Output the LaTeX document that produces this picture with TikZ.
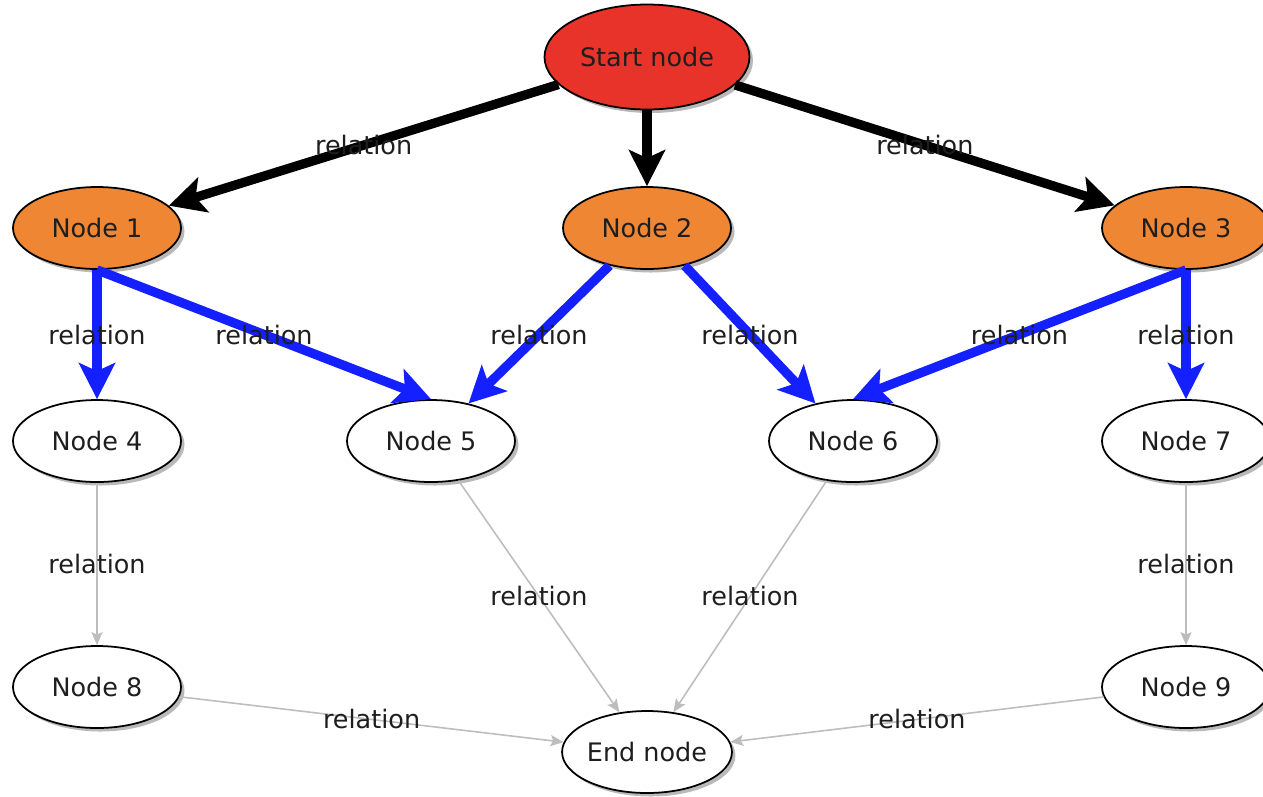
\documentclass[tikz,border=0pt]{standalone}
\usepackage{fontspec}
\setmainfont{DejaVu Sans}
\usepackage{xcolor}
\usetikzlibrary{shapes,arrows.meta,shadows}

\definecolor{startred}{HTML}{E8332A}
\definecolor{nodeorange}{HTML}{EE8634}
\definecolor{relblue}{HTML}{1420FF}
\definecolor{relgrey}{HTML}{BDBDBD}
\definecolor{txtgrey}{HTML}{1E1E1E}

\begin{document}
\begin{tikzpicture}[
    font=\fontsize{14.5}{17}\selectfont,
    state/.style={ellipse, draw=black, line width=1pt, text=txtgrey,
        minimum width=3.36cm, minimum height=1.64cm, inner sep=0pt, fill=white,
        drop shadow={shadow xshift=0.07cm, shadow yshift=-0.07cm, fill=black!50, opacity=0.55}},
    top/.style={state, fill=startred, minimum width=4.1cm, minimum height=2.1cm},
    mid/.style={state, fill=nodeorange},
    rel/.style={text=txtgrey, inner sep=1pt},
    mainrel/.style={line width=5.3pt, -{Stealth[length=0.72cm, width=0.72cm, inset=0.16cm]}},
    blackrel/.style={mainrel, draw=black},
    bluerel/.style={mainrel, draw=relblue},
    greyrel/.style={line width=0.9pt, draw=relgrey, -{Stealth[length=0.26cm, width=0.22cm, inset=0.05cm]}}
]
\useasboundingbox (0,0) rectangle (25.26,-15.92);

% Noeud de départ
\node[top] (start) at (12.94,-1.14) {Start node};

% Premier niveau
\node[mid] (n1) at (1.94,-4.56) {Node 1};
\node[mid] (n2) at (12.94,-4.56) {Node 2};
\node[mid] (n3) at (23.72,-4.56) {Node 3};

% Deuxième niveau
\node[state] (n4) at (1.94,-8.82) {Node 4};
\node[state] (n5) at (8.62,-8.82) {Node 5};
\node[state] (n6) at (17.06,-8.82) {Node 6};
\node[state] (n7) at (23.72,-8.82) {Node 7};

% Troisième niveau
\node[state] (n8) at (1.94,-13.74) {Node 8};
\node[state] (n9) at (23.72,-13.74) {Node 9};
\node[state] (end) at (12.94,-15.04) {End node};

% Relations
\foreach \a/\b in {start/n1, start/n3}
    \draw[blackrel] (\a) -- node[rel] {relation} (\b);
\draw[blackrel] (start) -- (n2);

\foreach \a/\b in {n1.south/n4.north, n1.south/n5.north, n2.225/n5.45,
                   n2.315/n6.135, n3.south/n6.north, n3.south/n7.north}
    \draw[bluerel] (\a) -- node[rel] {relation} (\b);

\foreach \a/\b in {n4/n8, n5/end, n6/end, n7/n9, n8/end, n9/end}
    \draw[greyrel] (\a) -- node[rel] {relation} (\b);

\end{tikzpicture}
\end{document}
